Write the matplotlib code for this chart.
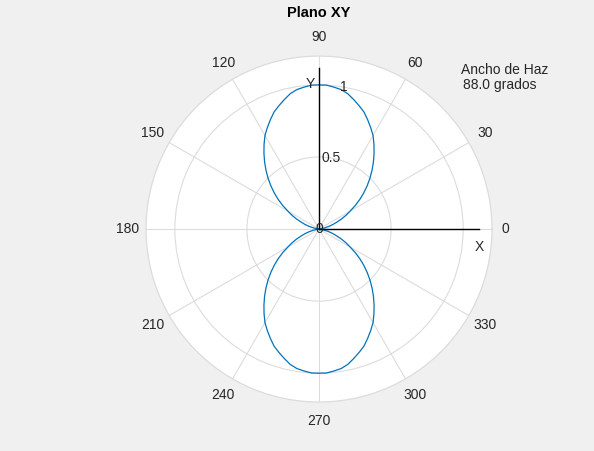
import matplotlib.pyplot as plt
import numpy as np

plt.rcParams['font.family'] = ['Liberation Sans', 'DejaVu Sans']

# pattern, every 3 degrees from 0 to 360
angles_deg = list(range(0, 363, 3))
radius = [0.00, 0.00, 0.01, 0.02, 0.04, 0.07, 0.10, 0.13, 0.17, 0.21, 0.25,
          0.30, 0.35, 0.40, 0.45, 0.50, 0.55, 0.60, 0.65, 0.70, 0.75,
          0.79, 0.83, 0.87, 0.90, 0.93, 0.96, 0.98, 0.99, 1.00, 1.00,
          1.00, 0.99, 0.98, 0.96, 0.93, 0.90, 0.87, 0.83, 0.79, 0.75,
          0.70, 0.65, 0.60, 0.55, 0.50, 0.45, 0.40, 0.35, 0.30, 0.25,
          0.21, 0.17, 0.13, 0.10, 0.07, 0.04, 0.02, 0.01, 0.00, 0.00,
          0.00, 0.01, 0.02, 0.04, 0.07, 0.10, 0.13, 0.17, 0.21, 0.25,
          0.30, 0.35, 0.40, 0.45, 0.50, 0.55, 0.60, 0.65, 0.70, 0.75,
          0.79, 0.83, 0.87, 0.90, 0.93, 0.96, 0.98, 0.99, 1.00, 1.00,
          1.00, 0.99, 0.98, 0.96, 0.93, 0.90, 0.87, 0.83, 0.79, 0.75,
          0.70, 0.65, 0.60, 0.55, 0.50, 0.45, 0.40, 0.35, 0.30, 0.25,
          0.21, 0.17, 0.13, 0.10, 0.07, 0.04, 0.02, 0.01, 0.00, 0.00]
theta_ticks = list(range(0, 360, 30))
r_ticks = [0, 0.5, 1]
r_labels = ['0', '0.5', '1']
r_max = 1.2
beam_width = 88.0

bg = '#f0f0f0'
grid_c = '#dcdcdc'
txt_c = '#262626'

fig = plt.figure(figsize=(5.94, 4.51), dpi=100, facecolor=bg)
ax = fig.add_axes([0.2458, 0.1086, 0.5825, 0.767], projection='polar')
ax.set_facecolor('white')

ax.plot(np.deg2rad(angles_deg), radius, color='#0072BD', lw=0.9)

# axis lines for X and Y
ax.plot([0, 0], [0, 1.11], color='black', lw=1.0)
ax.plot([np.pi / 2, np.pi / 2], [0, 1.12], color='black', lw=1.0)
ax.text(np.deg2rad(-6.5), 1.12, 'X', ha='center', va='center', fontsize=10, color=txt_c)
ax.text(np.deg2rad(93.5), 1.01, 'Y', ha='center', va='center', fontsize=10, color=txt_c)

ax.set_ylim(0, r_max)
ax.set_thetagrids(theta_ticks, [''] * len(theta_ticks))
ax.set_rticks(r_ticks)
ax.set_yticklabels([''] * len(r_ticks))
ax.tick_params(axis='x', pad=0)
ax.grid(True, color=grid_c, lw=0.8)
ax.spines['polar'].set_color(grid_c)
ax.spines['polar'].set_linewidth(0.9)

# angle labels around the rim
for t in theta_ticks:
    rr = 1.29 if t == 0 else 1.33
    ax.text(np.deg2rad(t), rr, str(t), ha='center', va='center',
            fontsize=10, color=txt_c, clip_on=False)

# ring labels along the 80 degree spoke
for r, lab in zip(r_ticks, r_labels):
    ax.text(np.deg2rad(80), r, lab, ha='center', va='center',
            fontsize=10, color=txt_c)

fig.text(0.537, 1 - 13 / 451, 'Plano XY', fontsize=10.5, fontweight='bold',
         color='black', ha='center', va='center')

fig.text(0.776, 0.845, 'Ancho de Haz', fontsize=10, color=txt_c, va='center')
fig.text(0.779, 0.811, f'{beam_width:.1f} grados', fontsize=10, color=txt_c, va='center')

fig.savefig('out.png', dpi=100, facecolor=bg)
